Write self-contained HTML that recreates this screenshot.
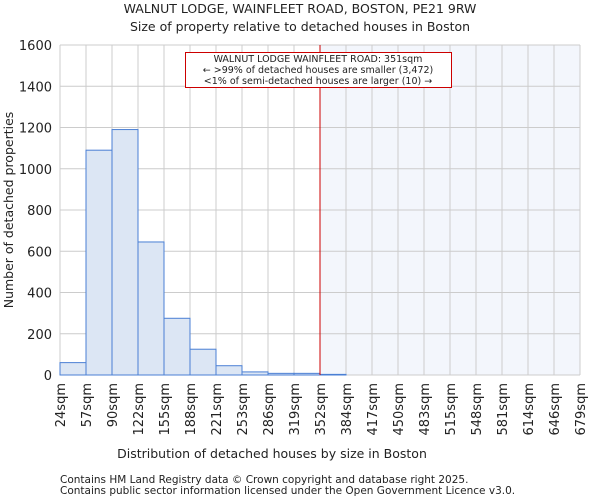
<!DOCTYPE html>
<html><head><meta charset="utf-8"><style>
body{margin:0;background:#fff;font-family:"DejaVu Sans","Liberation Sans",sans-serif;}
svg text{font-family:"DejaVu Sans","Liberation Sans",sans-serif;fill:#222}
</style></head><body>
<svg id="c" width="600" height="500" xmlns="http://www.w3.org/2000/svg">
<text x="300" y="13" font-size="12.5" text-anchor="middle">WALNUT LODGE, WAINFLEET ROAD, BOSTON, PE21 9RW</text>
<text x="300" y="31" font-size="12.5" text-anchor="middle">Size of property relative to detached houses in Boston</text>
<g id="plot"></g>
<text x="272" y="458" font-size="12.5" text-anchor="middle">Distribution of detached houses by size in Boston</text>
<text transform="translate(13,210) rotate(-90)" font-size="12.5" text-anchor="middle">Number of detached properties</text>
<text x="60" y="483" font-size="10.5" fill="#444">Contains HM Land Registry data © Crown copyright and database right 2025.</text>
<text x="60" y="494" font-size="10.5" fill="#444">Contains public sector information licensed under the Open Government Licence v3.0.</text>
</svg>
<script>
const edgeLabels=["24sqm","57sqm","90sqm","122sqm","155sqm","188sqm","221sqm","253sqm","286sqm","319sqm","352sqm","384sqm","417sqm","450sqm","483sqm","515sqm","548sqm","581sqm","614sqm","646sqm","679sqm"];
const counts=[60,1090,1190,645,275,125,45,15,8,8,3,0,0,0,0,0,0,0,0,0];
const yTicks=[0,200,400,600,800,1000,1200,1400,1600];
const markerIndex=10;
const X0=60,X1=580,Y0=375,Y1=45,YMAX=1600;
const bw=(X1-X0)/counts.length;
const xs=i=>X0+i*bw;
const ys=v=>Y0-(v/YMAX)*(Y0-Y1);
const NS="http://www.w3.org/2000/svg";
const g=document.getElementById('plot');
function mk(t,a){const e=document.createElementNS(NS,t);for(const k in a)e.setAttribute(k,a[k]);g.appendChild(e);return e;}
let e=mk('rect',{x:xs(markerIndex),y:Y1,width:X1-xs(markerIndex),height:Y0-Y1,fill:'#f3f6fc'});


yTicks.forEach(v=>{
 let l=mk('line',{x1:X0,x2:X1,y1:ys(v),y2:ys(v),stroke:'#ccc','stroke-width':1});
 
 
 let t=mk('text',{x:X0-8,y:ys(v)+5,'font-size':13,'text-anchor':'end'});t.textContent=v;
 
 
});
edgeLabels.forEach((s,i)=>{
 let l=mk('line',{x1:xs(i),x2:xs(i),y1:Y1,y2:Y0,stroke:'#ccc','stroke-width':1});
 
 
 let t=mk('text',{transform:`translate(${xs(i)+5},${Y0+8}) rotate(-90)`,'font-size':13,'text-anchor':'end'});t.textContent=s;
 
 
});
counts.forEach((c,i)=>{
 let r=mk('rect',{x:xs(i),y:ys(c),width:bw,height:Y0-ys(c),fill:i<markerIndex?'#dce6f4':'#e4ebf7',stroke:'#4a7fd4','stroke-width':1});
 
 
});
let m=mk('line',{x1:xs(markerIndex),x2:xs(markerIndex),y1:Y1,y2:Y0,stroke:'#cc0000','stroke-width':1});


let ab=mk('rect',{x:185.5,y:52.5,width:266,height:35,fill:'#fff',stroke:'#cc0000','stroke-width':1});


["WALNUT LODGE WAINFLEET ROAD: 351sqm","← >99% of detached houses are smaller (3,472)","<1% of semi-detached houses are larger (10) →"].forEach((s,i)=>{
 let t=mk('text',{x:318,y:62+i*11,'font-size':9.5,'text-anchor':'middle'});t.textContent=s;
 
 
});
</script>
</body></html>
